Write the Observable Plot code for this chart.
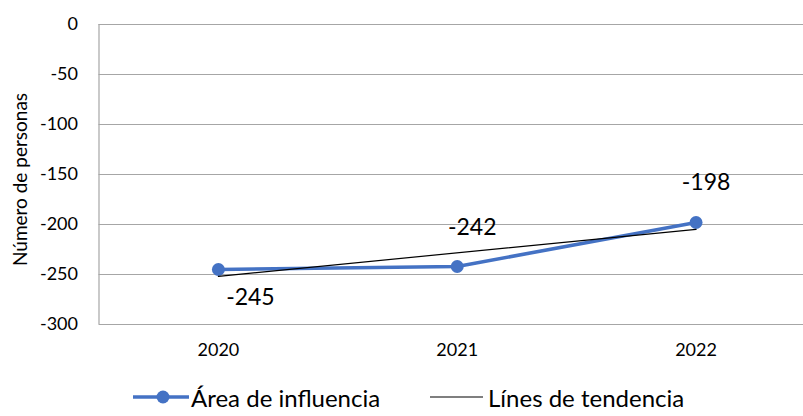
<!DOCTYPE html>
<html>
<head>
<meta charset="utf-8">
<script src="https://cdn.jsdelivr.net/npm/d3@7"></script>
<script src="https://cdn.jsdelivr.net/npm/@observablehq/plot@0.6"></script>
<style>
  html, body { margin: 0; padding: 0; background: #fff; overflow: hidden; }
  body { font-family: Lato, "Open Sans", sans-serif; }
  #wrap { position: relative; width: 803px; height: 416px; }
  #legend { position: absolute; left: 0; top: 378px; width: 803px; height: 38px; }
  .item { position: absolute; top: 0; height: 38px; display: flex; align-items: center; font-size: 24px; color: #000; white-space: nowrap; }
  .item svg { display: block; }
</style>
</head>
<body>
<div id="wrap">
  <div id="chart"></div>
  <div id="legend"></div>
</div>
<script>
// ---- data ----
const years = [2020, 2021, 2022];
const values = [-245, -242, -198];
const yTicks = [0, -50, -100, -150, -200, -250, -300];
const seriesName = "Área de influencia";
const trendName = "Línes de tendencia";
const yTitle = "Número de personas";
// label placement (style only, pixels)
const labelOffsets = [[32, 28], [15, -39], [10, -40]];

const data = years.map((y, i) => ({year: y, value: values[i], i}));
const blue = "#4472C4";
const grid = "#a6a6a6";

const chart = Plot.plot({
  width: 803,
  height: 378,
  marginTop: 24,
  marginBottom: 54,
  marginLeft: 98.5,
  marginRight: 0,
  style: {fontFamily: "Lato, 'Open Sans', sans-serif", background: "#fff", color: "#000"},
  x: {type: "linear", domain: [2019.5, 2022.45]},
  y: {domain: [-300, 0]},
  marks: [
    Plot.gridY(yTicks, {stroke: grid, strokeOpacity: 1, strokeWidth: 1.2}),
    Plot.ruleX([2019.5], {stroke: grid, strokeWidth: 1.2, y1: -300, y2: 0}),
    Plot.axisY(yTicks, {tickSize: 0, tickPadding: 21, fontSize: 18, label: null, tickFormat: d => String(d).replace("−", "-")}),
    Plot.axisX(years, {tickSize: 0, tickPadding: 19, fontSize: 18, label: null, tickFormat: d => String(d)}),
    Plot.text([yTitle], {frameAnchor: "left", textAnchor: "middle", text: d => d, rotate: -90, dx: -78, dy: 5, fontSize: 19, fill: "#000"}),
    Plot.line(data, {x: "year", y: "value", stroke: blue, strokeWidth: 3.5}),
    Plot.dot(data, {x: "year", y: "value", r: 6.5, fill: blue, stroke: "none"}),
    Plot.linearRegressionY(data, {x: "year", y: "value", stroke: "#000", strokeWidth: 1.2, ci: 0}),
    ...data.map((d, k) => Plot.text([d], {x: "year", y: "value", text: e => String(e.value), dx: labelOffsets[k][0], dy: labelOffsets[k][1], fontSize: 23, fill: "#000"}))
  ]
});
document.getElementById("chart").appendChild(chart);

// legend
const legend = document.getElementById("legend");
function addItem(left, swatch, label) {
  const div = document.createElement("div");
  div.className = "item";
  div.style.left = left + "px";
  div.innerHTML = swatch;
  const span = document.createElement("span");
  span.textContent = label;
  div.appendChild(span);
  legend.appendChild(div);
}
addItem(131,
  `<svg width="60" height="20"><line x1="2" y1="10" x2="58" y2="10" stroke="${blue}" stroke-width="3.5"/><circle cx="32" cy="10" r="6.5" fill="${blue}"/></svg>`,
  seriesName);
addItem(428,
  `<svg width="60" height="20"><line x1="2" y1="10" x2="55" y2="10" stroke="#000" stroke-width="1.2"/></svg>`,
  trendName);
</script>
</body>
</html>
